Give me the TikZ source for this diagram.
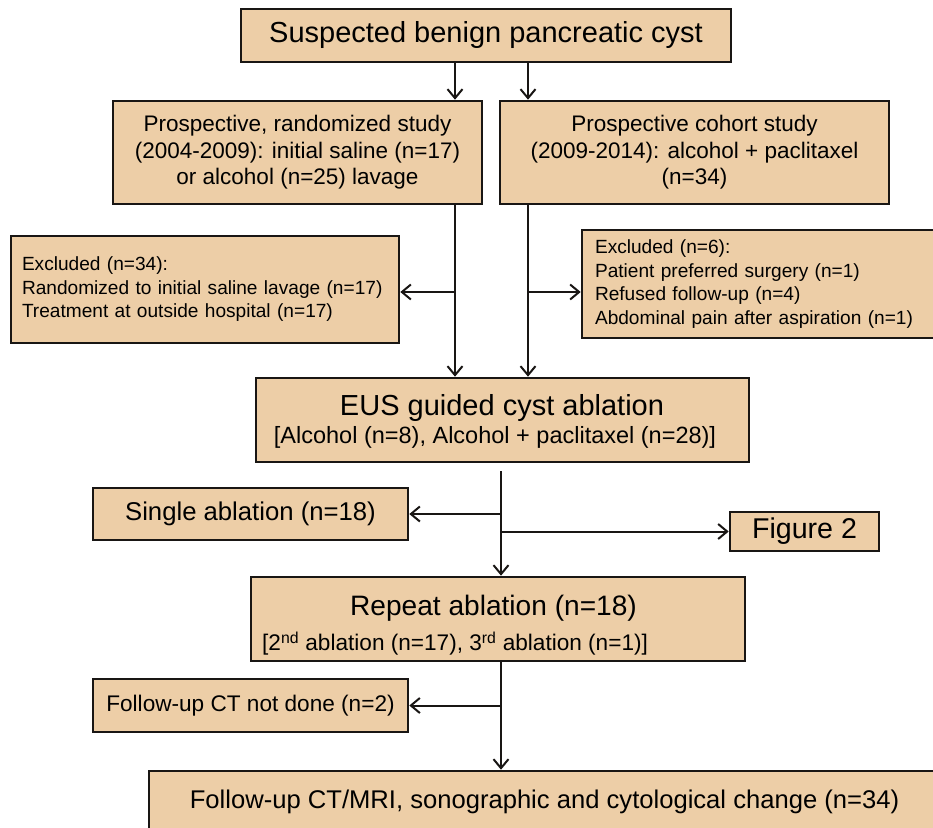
\documentclass[tikz,border=0pt]{standalone}
\usepackage{fontspec}
\setmainfont{Liberation Sans}
\usetikzlibrary{arrows.meta}
\definecolor{tan}{RGB}{237,206,167}
\definecolor{edge}{RGB}{25,22,20}
\tikzset{
  box/.style={draw=edge, fill=tan, line width=2.6pt, inner sep=0pt, anchor=center},
  arr/.style={draw=edge, line width=2pt, -{Straight Barb[length=9pt,width=15pt]}},
}
\newcommand{\fs}[2]{\fontsize{#1}{#2}\selectfont}
\begin{document}
\begin{tikzpicture}[x=1pt,y=-1pt]
\useasboundingbox (0,0) rectangle (933,827);
% boxes
\node[box, minimum width=490pt, minimum height=53pt, font=\fs{29}{29}] (top) at (486,35.5) {Suspected benign pancreatic cyst};
\node[box, minimum width=369pt, minimum height=103pt, align=center, font=\fs{22.5}{26.5}] (ls) at (297.5,152.5)
  {Prospective, randomized study\\(2004-2009): initial saline (n=17)\\or alcohol (n=25) lavage};
\node[box, minimum width=389pt, minimum height=103pt, align=center, font=\fs{22.5}{26.5}] (rs) at (694.5,152.5)
  {Prospective cohort study\\(2009-2014): alcohol + paclitaxel\\(n=34)};
\node[box, minimum height=107pt, inner xsep=11pt, text width=366pt, align=left, font=\fs{19.1}{23.5}] (exL) at (205,289.5)
  {Excluded (n=34):\\Randomized to initial saline lavage (n=17)\\Treatment at outside hospital (n=17)};
\node[box, minimum height=108pt, inner xsep=13pt, text width=332pt, align=left, font=\fs{19.1}{23.5}] (exR) at (761,284)
  {Excluded (n=6):\\Patient preferred surgery (n=1)\\Refused follow-up (n=4)\\Abdominal pain after aspiration (n=1)};
\node[box, minimum width=493pt, minimum height=84pt] (eus) at (502.5,420) {};
\node[anchor=base, inner sep=0pt, font=\fs{29}{29}] (eusA) at (502,415.5) {EUS guided cyst ablation};
\node[anchor=base, inner sep=0pt, font=\fs{23.5}{23.5}] (eusB) at (495,443.2) {[Alcohol (n=8), Alcohol + paclitaxel (n=28)]};
\node[box, minimum width=315pt, minimum height=52pt, font=\fs{25.7}{25.7}] (single) at (250.5,514) {Single ablation (n=18)};
\node[box, minimum width=149pt, minimum height=39pt, font=\fs{28.6}{28.6}] (fig) at (804.5,531.5) {Figure 2};
\node[box, minimum width=494pt, minimum height=84pt] (rep) at (498,619) {};
\node[anchor=base, inner sep=0pt, font=\fs{28.1}{28.1}] (repA) at (493.5,615.3) {Repeat ablation (n=18)};
\node[anchor=base west, inner sep=0pt, font=\fs{22.6}{22.6}] (repB) at (262,650.9) {[2\textsuperscript{nd} ablation (n=17), 3\textsuperscript{rd} ablation (n=1)]};
\node[box, minimum width=315pt, minimum height=53pt, font=\fs{22.6}{22.6}] (fct) at (250.5,705.5) {Follow-up CT not done (n=2)};
\node[box, minimum width=791pt, minimum height=61pt, font=\fs{25.6}{25.6}] (fin) at (544.5,801.5) {Follow-up CT/MRI, sonographic and cytological change (n=34)};
% guide coordinates
\coordinate (xa) at (455,0);
\coordinate (xb) at (528,0);
\coordinate (xm) at (501,0);
\coordinate (br) at (0,292);
% connectors
\draw[arr] (top.south -| xa) -- (ls.north -| xa);
\draw[arr] (top.south -| xb) -- (rs.north -| xb);
\draw[arr] (ls.south -| xa) -- (eus.north -| xa);
\draw[arr] (rs.south -| xb) -- (eus.north -| xb);
\draw[arr] (xa |- br) -- (exL.east |- br);
\draw[arr] (xb |- br) -- (exR.west |- br);
\draw[arr, shorten <=8pt] (eus.south -| xm) -- (rep.north -| xm);
\draw[arr] (xm |- single.east) -- (single.east);
\draw[arr] (xm |- fig.west) -- (fig.west);
\draw[arr] (rep.south -| xm) -- (fin.north -| xm);
\draw[arr] (xm |- fct.east) -- (fct.east);
\end{tikzpicture}
\end{document}
